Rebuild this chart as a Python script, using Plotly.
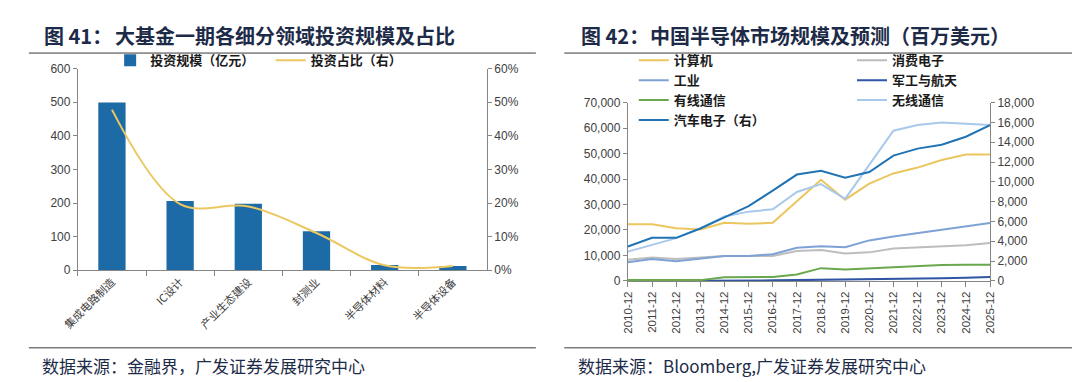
import plotly.graph_objects as go

# ---------------- data: chart 41 ----------------
fund_categories = ["集成电路制造", "IC设计", "产业生态建设", "封测业", "半导体材料", "半导体设备"]
fund_amount = [499, 206, 198, 116, 16, 13]            # 投资规模（亿元）
fund_share = [0.478, 0.197, 0.190, 0.111, 0.015, 0.013]  # 投资占比（右）

# ---------------- data: chart 42 ----------------
years = ["2010-12", "2011-12", "2012-12", "2013-12", "2014-12", "2015-12", "2016-12", "2017-12",
         "2018-12", "2019-12", "2020-12", "2021-12", "2022-12", "2023-12", "2024-12", "2025-12"]
computer = [22200, 22200, 20700, 20200, 22800, 22400, 22800, 31300, 39700, 31900, 38200, 42200, 44500, 47500, 49600, 49600]
consumer = [8300, 9200, 8600, 9200, 9800, 9800, 9800, 11700, 12100, 10800, 11200, 12700, 13200, 13600, 14000, 14900]
industrial = [7300, 8600, 7700, 8600, 9800, 9800, 10500, 13000, 13600, 13200, 15900, 17400, 18700, 19900, 21200, 22700]
military = [0, 0, 0, 0, 200, 200, 200, 300, 400, 400, 400, 600, 800, 1000, 1200, 1500]
wired = [300, 300, 300, 300, 1400, 1500, 1500, 2500, 5000, 4500, 4900, 5300, 5700, 6200, 6300, 6300]
wireless = [11500, 14000, 16800, 20600, 25300, 27200, 28100, 34900, 38000, 32200, 45500, 59000, 61200, 62200, 61700, 61200]
auto = [3470, 4350, 4350, 5290, 6420, 7560, 9110, 10740, 11130, 10410, 11000, 12650, 13360, 13750, 14560, 15730]  # 右轴

W, H = 1080, 382
def fx(p):
    return p / W
def fy(p):
    return 1 - p / H

NUM_FONT = dict(family="Liberation Sans, Arial", size=12, color="#404040")
CJK = "Noto Sans CJK SC"
AXIS_COLOR = "#868686"
TITLE_COLOR = "#1d2b48"

fig = go.Figure()

# chart 41
fig.add_trace(go.Bar(x=fund_categories, y=fund_amount, name="投资规模（亿元）", width=0.4,
                     marker=dict(color="#1c6aa6", line=dict(width=0)),
                     xaxis="x", yaxis="y", legend="legend"))
fig.add_trace(go.Scatter(x=fund_categories, y=fund_share, name="投资占比（右）", mode="lines",
                         line=dict(color="#ebc862", width=2, shape="spline", smoothing=1),
                         xaxis="x", yaxis="y2", legend="legend4"))

# chart 42
series = [
    ("计算机", computer, "#ebc55e", "y3", "legend2"),
    ("消费电子", consumer, "#bdbdbd", "y3", "legend3"),
    ("工业", industrial, "#7ea2d6", "y3", "legend2"),
    ("军工与航天", military, "#2f55a4", "y3", "legend3"),
    ("有线通信", wired, "#6aa84f", "y3", "legend2"),
    ("无线通信", wireless, "#a8c8ec", "y3", "legend3"),
    ("汽车电子（右）", auto, "#2173b3", "y4", "legend2"),
]
for name, vals, color, yax, leg in series:
    fig.add_trace(go.Scatter(x=years, y=vals, name=name, mode="lines",
                             line=dict(color=color, width=2),
                             xaxis="x2", yaxis=yax, legend=leg))

axis_common = dict(showline=True, linecolor=AXIS_COLOR, linewidth=1, ticks="outside",
                   tickcolor=AXIS_COLOR, ticklen=4, showgrid=False, zeroline=False)

legend_font = dict(family=CJK, size=13, color="#1a1a1a", weight="bold")

fig.update_layout(
    width=W, height=H,
    margin=dict(l=0, r=0, t=0, b=0),
    paper_bgcolor="white", plot_bgcolor="white",
    showlegend=True,
    xaxis=dict(domain=[fx(54), fx(472)], anchor="y", type="category",
               range=[-0.5, 5.5], tickson="boundaries", tickangle=-45, ticklen=5,
               tickfont=dict(family=CJK, size=11, color="#404040"),
               **{k: v for k, v in axis_common.items() if k != "ticklen"}),
    yaxis=dict(domain=[fy(265), fy(55.7)], anchor="x", range=[0, 600], dtick=100,
               tickfont=NUM_FONT, **axis_common),
    yaxis2=dict(overlaying="y", side="right", anchor="x", range=[0, 0.6], dtick=0.1,
                tickformat=".0%", tickfont=NUM_FONT, **axis_common),
    xaxis2=dict(domain=[fx(616), fx(986)], anchor="y3", type="category",
                range=[0, 15], tickangle=-90, ticklen=5,
                tickfont=dict(family="Liberation Sans, Arial", size=11.5, color="#404040"),
                **{k: v for k, v in axis_common.items() if k != "ticklen"}),
    yaxis3=dict(domain=[fy(276), fy(91)], anchor="x2", range=[0, 70000], dtick=10000,
                tickformat=",", tickfont=NUM_FONT, **axis_common),
    yaxis4=dict(overlaying="y3", side="right", anchor="x2", range=[0, 18000], dtick=2000,
                tickformat=",", tickfont=NUM_FONT, **axis_common),
    legend=dict(x=fx(87), y=fy(31.5), xanchor="left", yanchor="top", orientation="h",
                font=legend_font, bgcolor="rgba(0,0,0,0)", itemwidth=30),
    legend4=dict(x=fx(251), y=fy(31.5), xanchor="left", yanchor="top", orientation="h",
                 font=legend_font, bgcolor="rgba(0,0,0,0)", itemwidth=30),
    legend2=dict(x=fx(622), y=fy(31.5), xanchor="left", yanchor="top", orientation="v",
                 font=legend_font, bgcolor="rgba(0,0,0,0)", itemwidth=30, tracegroupgap=0),
    legend3=dict(x=fx(845), y=fy(31.5), xanchor="left", yanchor="top", orientation="v",
                 font=legend_font, bgcolor="rgba(0,0,0,0)", itemwidth=30, tracegroupgap=0),
)

title_font = dict(family=CJK, size=20, color=TITLE_COLOR, weight="bold")
foot_font = dict(family=CJK, size=17, color=TITLE_COLOR)
annos = [
    (17, 21, "图 41：", title_font),
    (90, 21, "大基金一期各细分领域投资规模及占比", title_font),
    (566, 21, "图 42：", title_font),
    (637, 21, "中国半导体市场规模及预测（百万美元）", title_font),
    (15, 364, "数据来源：金融界，广发证券发展研究中心", foot_font),
    (563, 364, "数据来源：Bloomberg,广发证券发展研究中心", foot_font),
]
for x, y, t, f in annos:
    fig.add_annotation(x=fx(x), y=fy(y), xref="paper", yref="paper", text=t, showarrow=False,
                       xanchor="left", yanchor="middle", font=f)

for x0, x1, y in [(4, 522, 39.5), (551, 1070, 39.5), (4, 522, 345.5), (551, 1070, 345.5)]:
    fig.add_shape(type="line", xref="paper", yref="paper", x0=fx(x0), x1=fx(x1), y0=fy(y), y1=fy(y),
                  line=dict(color="#3a3a3a", width=1))

fig.write_html("out.html")
